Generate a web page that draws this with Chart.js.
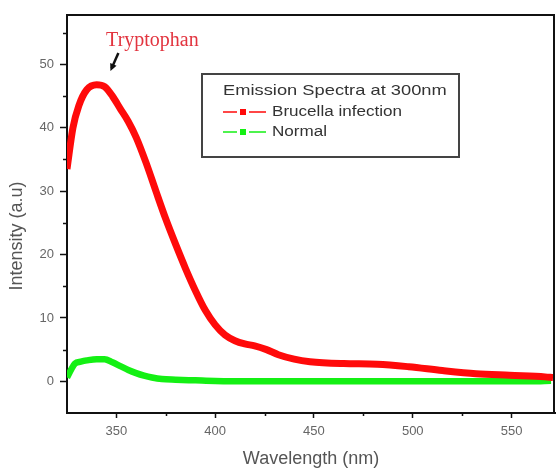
<!DOCTYPE html>
<html>
<head>
    <title>Emission Spectra at 300nm</title>
    <script src="https://cdn.jsdelivr.net/npm/chart.js"></script>
    <style>
        body {
            margin: 0;
            background: #ffffff;
        }
    </style>
</head>
<body>
<canvas id="spectraChart" width="556" height="468"></canvas>
<script>
    // values (wavelength in nm, intensity in a.u.)
    const brucellaWavelengths = [325, 328, 331, 335, 340, 344, 348, 352, 356, 360, 365, 370, 375, 380, 385, 390, 395, 400, 405, 410, 415, 420, 426, 432, 440, 448, 465, 482, 498, 515, 532, 549, 567, 571];
    const brucellaIntensity = [33.5, 40, 43.5, 46, 46.8, 46.5, 45, 43, 41, 38.5, 34.5, 30, 25.6, 21.6, 17.8, 14.3, 11.2, 8.9, 7.3, 6.4, 5.9, 5.6, 5.0, 4.2, 3.5, 3.1, 2.8, 2.7, 2.3, 1.7, 1.2, 0.95, 0.7, 0.6];

    const normalWavelengths = [325, 327, 329, 332, 335, 340, 344, 348, 352, 356, 360, 364, 368, 373, 380, 390, 400, 420, 450, 500, 540, 560, 570];
    const normalIntensity = [0.6, 1.8, 2.8, 3.1, 3.3, 3.5, 3.5, 3.0, 2.4, 1.8, 1.3, 0.9, 0.6, 0.35, 0.25, 0.15, 0.05, 0, 0, 0, 0, 0, 0.1];

    const xTickValues = [350, 400, 450, 500, 550];
    const xMinorValues = [375, 425, 475, 525];
    const yTickValues = [0, 10, 20, 30, 40, 50];
    const yMinorValues = [5, 15, 25, 35, 45, 55];

    const seriesNames = ['Brucella infection', 'Normal'];
    const seriesColors = ['#ff0a0a', '#14f014'];
    const legendTitle = 'Emission Spectra at 300nm';
    const annotationText = 'Tryptophan';

    Chart.defaults.font.family = '"Liberation Sans", Arial, sans-serif';

    const toPoints = (xs, ys) => xs.map((x, i) => ({x: x, y: ys[i]}));

    // frame, minor ticks, y title, legend box and the Tryptophan note
    const decorations = {
        id: 'decorations',
        afterDraw(chart) {
            const ctx = chart.ctx;
            const area = chart.chartArea;
            const xs = chart.scales.x;
            const ys = chart.scales.y;
            ctx.save();

            // top and right frame lines
            ctx.strokeStyle = '#111';
            ctx.lineWidth = 2;
            ctx.beginPath();
            ctx.moveTo(area.left, area.top);
            ctx.lineTo(area.right - 1, area.top);
            ctx.lineTo(area.right - 1, area.bottom);
            ctx.stroke();

            // minor ticks
            ctx.lineWidth = 1.5;
            ctx.beginPath();
            yMinorValues.forEach(v => {
                const py = Math.round(ys.getPixelForValue(v)) + 0.5;
                ctx.moveTo(area.left - 4, py);
                ctx.lineTo(area.left, py);
            });
            xMinorValues.forEach(v => {
                const px = Math.round(xs.getPixelForValue(v)) + 0.5;
                ctx.moveTo(px, area.bottom);
                ctx.lineTo(px, area.bottom + 3);
            });
            ctx.stroke();

            // y axis title
            ctx.save();
            ctx.translate(17, 236);
            ctx.rotate(-Math.PI / 2);
            ctx.fillStyle = '#555';
            ctx.font = '18px "Liberation Sans", Arial, sans-serif';
            ctx.textAlign = 'center';
            ctx.textBaseline = 'middle';
            ctx.fillText('Intensity (a.u)', 0, 0);
            ctx.restore();

            // legend
            const box = {left: 202, top: 74, right: 459, bottom: 157};
            ctx.strokeStyle = '#444';
            ctx.lineWidth = 2;
            ctx.strokeRect(box.left, box.top, box.right - box.left, box.bottom - box.top);

            const stretch = 1.22;
            ctx.fillStyle = '#333';
            ctx.textAlign = 'left';
            ctx.textBaseline = 'middle';
            ctx.save();
            ctx.translate(223, 91);
            ctx.scale(stretch, 1);
            ctx.font = '15px "Liberation Sans", Arial, sans-serif';
            ctx.fillText(legendTitle, 0, 0);
            ctx.restore();

            const rowY = [112, 132];
            seriesNames.forEach((name, i) => {
                const y = rowY[i];
                ctx.strokeStyle = seriesColors[i];
                ctx.lineWidth = 1.5;
                ctx.beginPath();
                ctx.moveTo(223, y);
                ctx.lineTo(237, y);
                ctx.moveTo(249, y);
                ctx.lineTo(266, y);
                ctx.stroke();
                ctx.fillStyle = seriesColors[i];
                ctx.fillRect(240, y - 3, 6, 6);

                ctx.save();
                ctx.translate(272, y);
                ctx.scale(stretch, 1);
                ctx.fillStyle = '#333';
                ctx.font = '14px "Liberation Sans", Arial, sans-serif';
                ctx.fillText(name, 0, 0);
                ctx.restore();
            });

            // Tryptophan note and its arrow
            ctx.fillStyle = '#e2343f';
            ctx.font = '20px "Liberation Serif", "Times New Roman", serif';
            ctx.textAlign = 'left';
            ctx.textBaseline = 'middle';
            ctx.fillText(annotationText, xs.getPixelForValue(344.8), ys.getPixelForValue(53.7));

            const ax0 = xs.getPixelForValue(351), ay0 = ys.getPixelForValue(51.8);
            const ax1 = xs.getPixelForValue(347.6), ay1 = ys.getPixelForValue(49.4);
            ctx.strokeStyle = '#111';
            ctx.fillStyle = '#111';
            ctx.lineWidth = 2.5;
            ctx.beginPath();
            ctx.moveTo(ax0, ay0);
            ctx.lineTo(ax1, ay1);
            ctx.stroke();
            const ang = Math.atan2(ay1 - ay0, ax1 - ax0);
            const tipX = ax1 + Math.cos(ang) * 3, tipY = ay1 + Math.sin(ang) * 3;
            ctx.beginPath();
            ctx.moveTo(tipX, tipY);
            ctx.lineTo(tipX - Math.cos(ang - 0.45) * 8, tipY - Math.sin(ang - 0.45) * 8);
            ctx.lineTo(tipX - Math.cos(ang + 0.45) * 8, tipY - Math.sin(ang + 0.45) * 8);
            ctx.closePath();
            ctx.fill();

            ctx.restore();
        }
    };

    const ctx = document.getElementById('spectraChart').getContext('2d');
    const spectraChart = new Chart(ctx, {
        type: 'line',
        data: {
            datasets: [
                {
                    label: seriesNames[0],
                    data: toPoints(brucellaWavelengths, brucellaIntensity),
                    borderColor: seriesColors[0],
                    backgroundColor: seriesColors[0],
                    borderWidth: 7,
                    pointRadius: 0,
                    cubicInterpolationMode: 'monotone'
                },
                {
                    label: seriesNames[1],
                    data: toPoints(normalWavelengths, normalIntensity),
                    borderColor: seriesColors[1],
                    backgroundColor: seriesColors[1],
                    borderWidth: 6.5,
                    pointRadius: 0,
                    cubicInterpolationMode: 'monotone'
                }
            ]
        },
        options: {
            responsive: false,
            animation: false,
            devicePixelRatio: 1,
            layout: {
                padding: {top: 15, right: 1, left: 0, bottom: 0}
            },
            plugins: {
                legend: {display: false},
                tooltip: {enabled: false}
            },
            scales: {
                x: {
                    type: 'linear',
                    min: 325,
                    max: 572,
                    afterBuildTicks: scale => {
                        scale.ticks = xTickValues.map(v => ({value: v}));
                    },
                    afterFit: scale => {
                        scale.height = 55;
                    },
                    grid: {
                        drawOnChartArea: false,
                        color: '#111',
                        tickLength: 5,
                        tickWidth: 1.5
                    },
                    border: {color: '#111', width: 2},
                    ticks: {
                        color: '#666',
                        padding: 6,
                        maxRotation: 0,
                        font: {size: 13}
                    },
                    title: {
                        display: true,
                        text: 'Wavelength (nm)',
                        color: '#555',
                        font: {size: 18, lineHeight: 1},
                        padding: {top: 0, bottom: 0}
                    }
                },
                y: {
                    min: -5,
                    max: 57.8,
                    afterBuildTicks: scale => {
                        scale.ticks = yTickValues.map(v => ({value: v}));
                    },
                    afterFit: scale => {
                        scale.width = 67;
                    },
                    grid: {
                        drawOnChartArea: false,
                        color: '#111',
                        tickLength: 7,
                        tickWidth: 1.5
                    },
                    border: {color: '#111', width: 2},
                    ticks: {
                        color: '#666',
                        padding: 6,
                        font: {size: 13}
                    }
                }
            }
        },
        plugins: [decorations]
    });
</script>
</body>
</html>
